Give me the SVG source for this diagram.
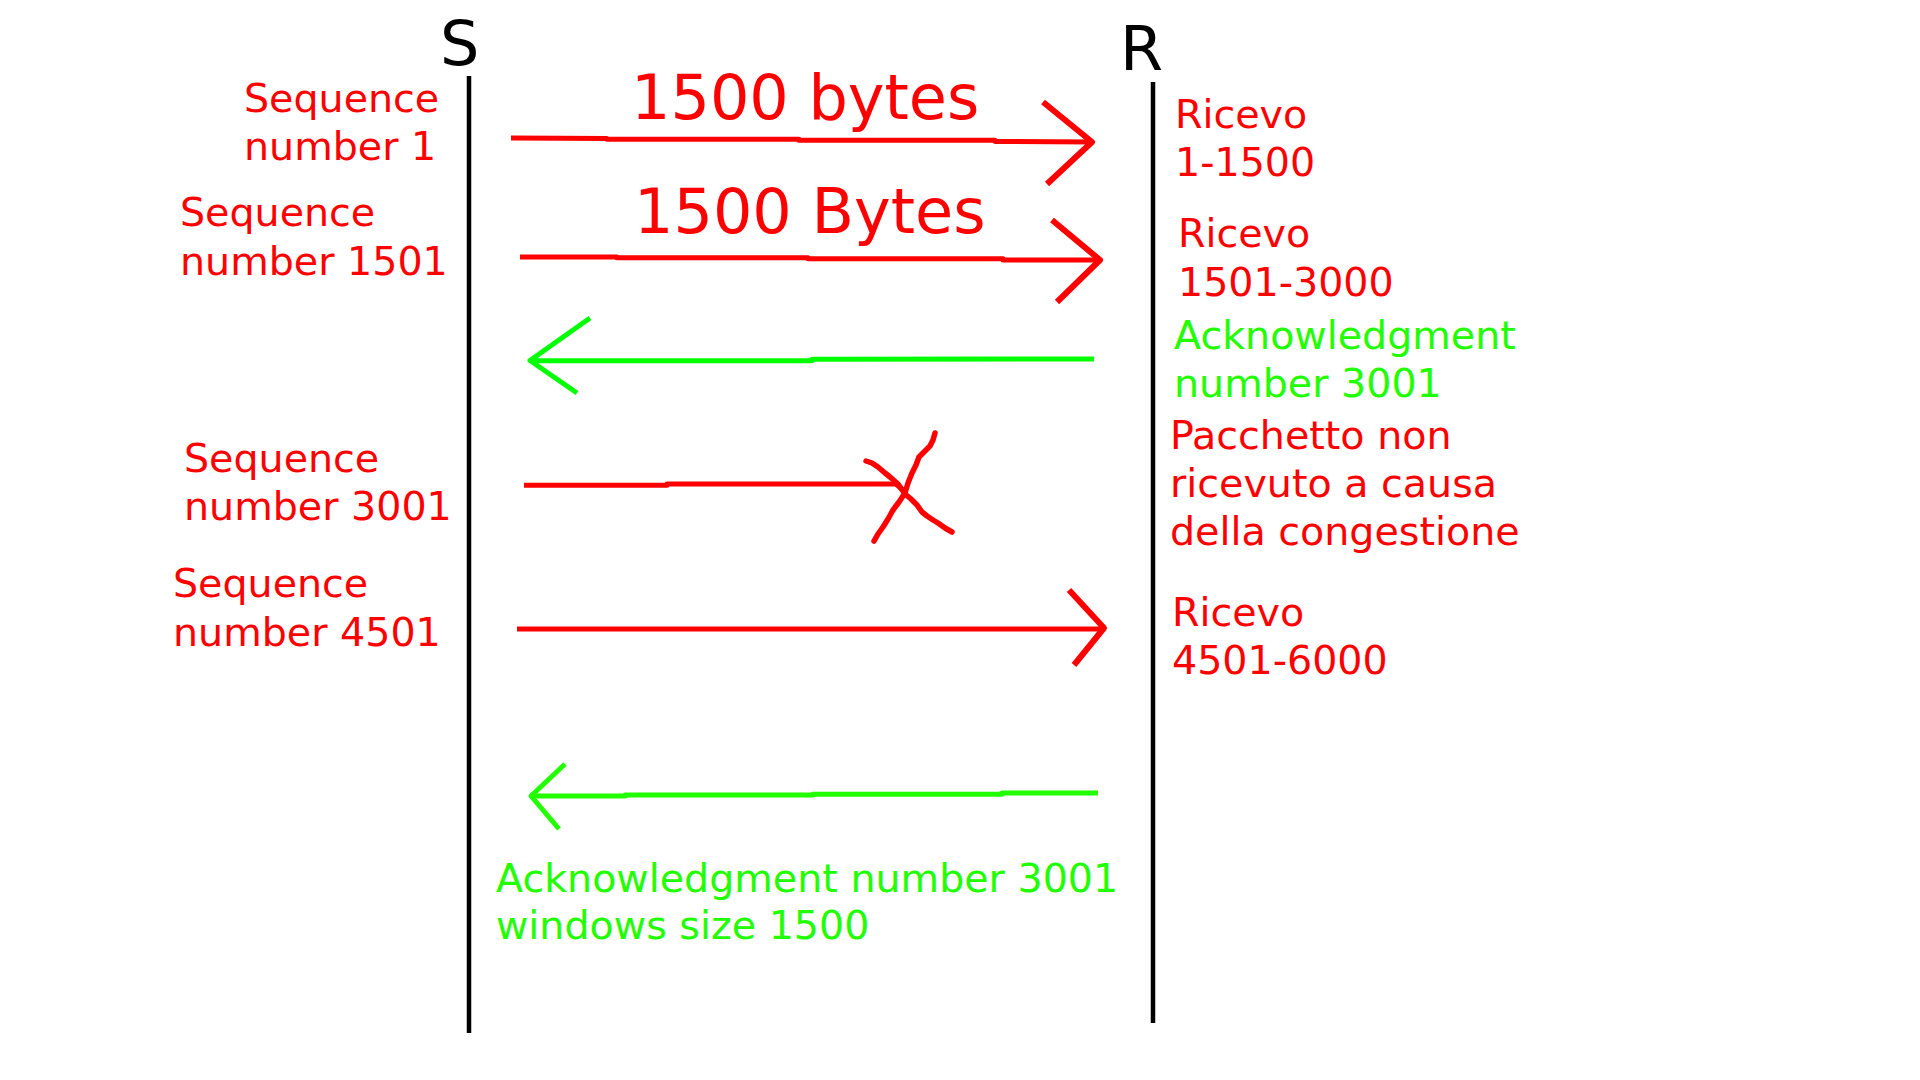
<svg xmlns="http://www.w3.org/2000/svg" width="1920" height="1080" viewBox="0 0 1920 1080">
<style>
text{font-family:"DejaVu Sans","Liberation Sans",sans-serif;}
.lbl{font-size:39.6px;}
.big{font-size:62px;}
.red{fill:#ff0000;}
.grn{fill:#22ff00;}
.blk{fill:#000000;}
.life{stroke:#000;stroke-width:4.5;fill:none;}
.rl{stroke:#ff0000;stroke-width:5;fill:none;stroke-linejoin:round;}
.rh{stroke:#ff0000;stroke-width:6;fill:none;stroke-linejoin:round;stroke-linecap:butt;}
.gl{stroke:#00ff00;stroke-width:5;fill:none;stroke-linejoin:round;}
.gl2{stroke:#22ff00;stroke-width:5;fill:none;stroke-linejoin:round;}
.x{stroke:#ff0000;stroke-width:5.5;fill:none;stroke-linejoin:round;stroke-linecap:round;}
</style>
<rect width="1920" height="1080" fill="#ffffff"/>
<g id="sender">
<text class="big blk" x="440" y="65">S</text>
<line class="life" x1="469" y1="76" x2="469" y2="1033"/>
</g>
<g id="receiver">
<text class="big blk" x="1120" y="70">R</text>
<line class="life" x1="1153" y1="82" x2="1153" y2="1023"/>
</g>
<g id="seq1"><text class="lbl red"><tspan x="244" y="112">Sequence</tspan><tspan x="244" y="160">number 1</tspan></text></g>
<g id="seq1501"><text class="lbl red"><tspan x="180" y="226">Sequence</tspan><tspan x="180" y="275">number 1501</tspan></text></g>
<g id="seq3001"><text class="lbl red"><tspan x="184" y="472">Sequence</tspan><tspan x="184" y="520">number 3001</tspan></text></g>
<g id="seq4501"><text class="lbl red"><tspan x="173" y="597">Sequence</tspan><tspan x="173" y="646">number 4501</tspan></text></g>
<g id="bytes1"><text class="big red" x="631" y="119">1500 bytes</text></g>
<g id="bytes2"><text class="big red" x="634" y="233">1500 Bytes</text></g>
<g id="ric1"><text class="lbl red"><tspan x="1175" y="128">Ricevo</tspan><tspan x="1175" y="176">1-1500</tspan></text></g>
<g id="ric2"><text class="lbl red"><tspan x="1178" y="247">Ricevo</tspan><tspan x="1178" y="296">1501-3000</tspan></text></g>
<g id="ack1"><text class="lbl grn"><tspan x="1174" y="349">Acknowledgment</tspan><tspan x="1174" y="397">number 3001</tspan></text></g>
<g id="lost"><text class="lbl red"><tspan x="1170" y="449">Pacchetto non</tspan><tspan x="1170" y="497">ricevuto a causa</tspan><tspan x="1170" y="545">della congestione</tspan></text></g>
<g id="ric3"><text class="lbl red"><tspan x="1172" y="626">Ricevo</tspan><tspan x="1172" y="674">4501-6000</tspan></text></g>
<g id="ack2"><text class="lbl grn"><tspan x="496" y="892">Acknowledgment number 3001</tspan><tspan x="496" y="939">windows size 1500</tspan></text></g>
<g id="connectors">
<polyline class="rl" points="511,138 607,138.5 607,139.3 799,139.3 799,140.3 995,140.3 995,141.5 1092,142"/>
<polyline class="rh" points="1043,102 1092,142 1047,184"/>
<polyline class="rl" points="520,257 617,257 617,257.8 808,257.8 808,258.7 1003,258.7 1003,260 1100,260"/>
<polyline class="rh" points="1052,220 1100,260 1057,302"/>
<polyline class="gl" points="1094,359 812,359.3 812,360.7 530,360.7"/>
<polyline class="gl" points="590,318 530,360.5 577,393"/>
<polyline class="rl" points="524,485.3 667,485.3 667,484 896,484 903,490"/>
<polyline class="x" points="866,461 872,463 878,467 885,473 890,477 898,484 905,494 911,499 917,505 922,512 927,516 933,520 938,523 945,528 952,532"/>
<polyline class="x" points="935,433 933,440 930,446 924,452 919,457 916,465 912,473 908,483 905,493 899,502 893,510 888,519 883,527 878,534 874,541"/>
<polyline class="rl" points="517,629 1104,629"/>
<polyline class="rh" points="1069,590 1104,628 1074,665"/>
<polyline class="gl2" points="1098,793 1002,793 1002,794.3 813,794.3 813,795 625,795 625,796 531,796"/>
<polyline class="gl2" points="565,764 531,796 559,829"/>
</g>
</svg>
